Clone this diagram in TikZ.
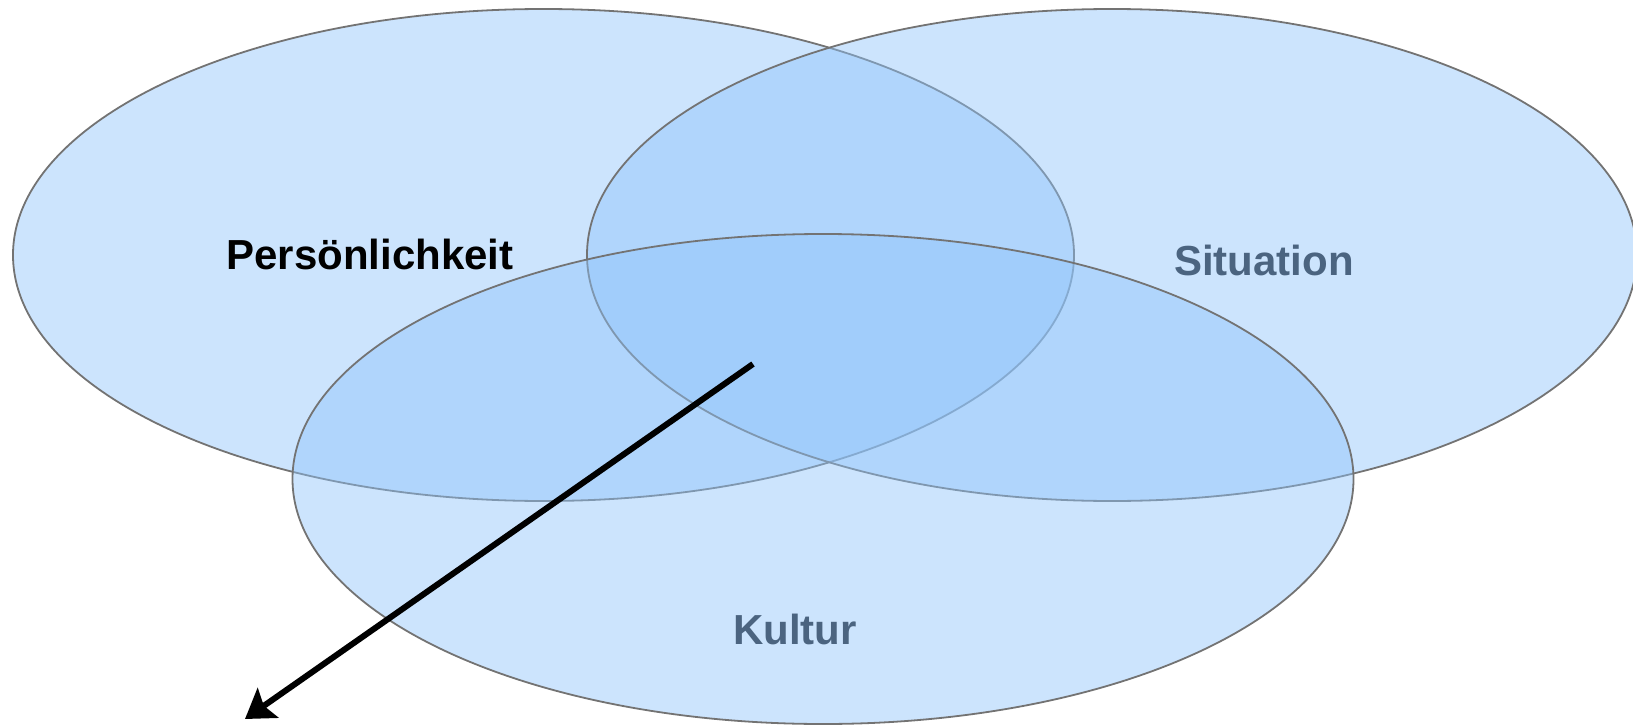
\documentclass[tikz,border=0pt]{standalone}
\usepackage{fontspec}
\setmainfont{Liberation Sans}
\usetikzlibrary{shapes.geometric,arrows.meta}
\definecolor{setfill}{RGB}{142,195,250}
\definecolor{setline}{RGB}{115,115,115}
\definecolor{labelblue}{RGB}{75,100,128}
\tikzset{
  setellipse/.style={ellipse, draw=setline, line width=1.8pt, fill=setfill, fill opacity=0.45, inner sep=0pt, outer sep=0pt},
  setlabel/.style={font=\fontsize{42}{50}\selectfont\bfseries, inner sep=0pt},
  bigarrow/.style={line width=6pt, -{Stealth[length=28pt,width=36pt,inset=5pt]}}
}
\begin{document}
\begin{tikzpicture}[x=1pt,y=-1pt]
\useasboundingbox (0,0) rectangle (1633,725);
\node[setellipse, minimum width=1061pt, minimum height=492pt] (pers) at (543.5,255) {};
\node[setellipse, minimum width=1050pt, minimum height=492pt] (sit) at (1112,255) {};
\node[setellipse, minimum width=1061pt, minimum height=490pt] (kul) at (823,479) {};
\node[setlabel, text=black] (lpers) at (370,254) {Persönlichkeit};
\node[setlabel, text=labelblue] (lsit) at (1264,260) {Situation};
\node[setlabel, text=labelblue] (lkul) at (795,629) {Kultur};
\coordinate (astart) at (753,364);
\coordinate (aend) at (245,719);
\draw[bigarrow] (astart) -- (aend);
\end{tikzpicture}
\end{document}
